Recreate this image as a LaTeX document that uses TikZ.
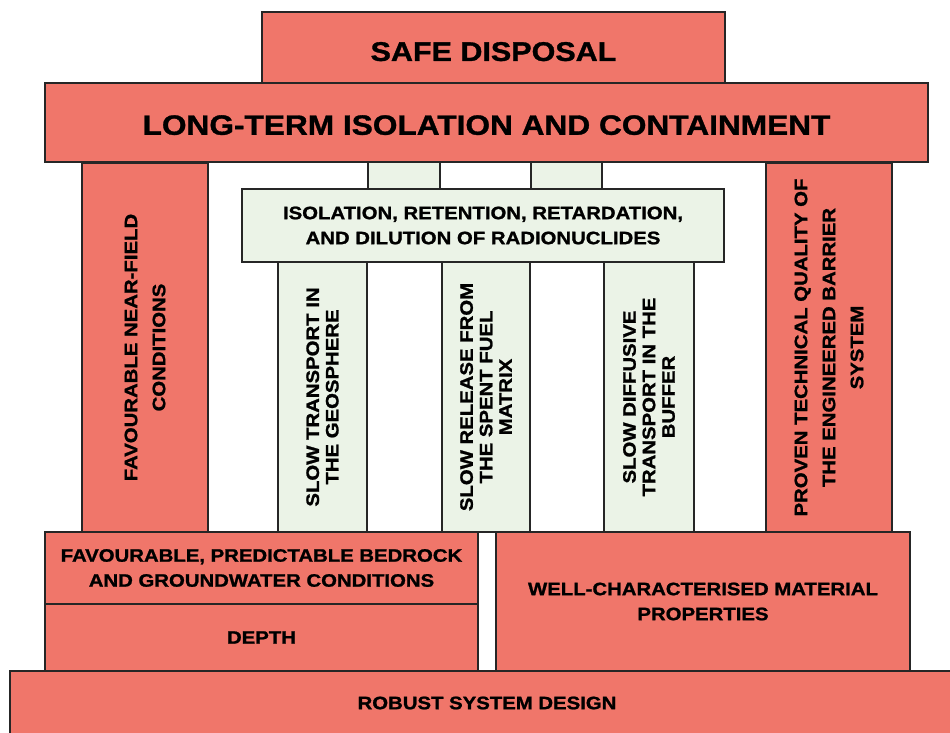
\documentclass[tikz,border=0pt]{standalone}
\usepackage{fontspec}
\setmainfont{Liberation Sans}[BoldFeatures={FakeStretch=1.13, FakeBold=1.2}]
\usetikzlibrary{positioning}
\definecolor{pillarred}{RGB}{240,118,106}
\definecolor{pillargreen}{RGB}{235,243,231}

\begin{document}
\begin{tikzpicture}[x=1pt, y=-1pt,
        redbox/.style={draw=black!85, line width=1.6pt, fill=pillarred, inner sep=0pt,
            align=center, font=\bfseries\fontsize{18}{25}\selectfont},
        greenbox/.style={redbox, fill=pillargreen},
        headbox/.style={redbox, font=\bfseries\fontsize{27}{30}\selectfont},
        column/.style={rotate=90, font=\bfseries\fontsize{18}{28}\selectfont},
        thincolumn/.style={rotate=90, font=\bfseries\fontsize{18}{19.5}\selectfont}]
    \useasboundingbox (0,0) rectangle (950,733);

    % 1. Mái
    \node[headbox, minimum width=463pt, minimum height=71pt] (safe) at (493.5,47.5)
        {\raisebox{-4pt}[\height][0pt]{SAFE DISPOSAL}};
    \node[greenbox, minimum width=72pt, minimum height=27pt] (linkA) at (404,175.5) {};
    \node[greenbox, minimum width=71pt, minimum height=27pt] (linkB) at (566.5,175.5) {};
    \node[headbox, minimum width=883pt, minimum height=79pt, font=\bfseries\fontsize{28}{30}\selectfont]
        (isolation) at (486.5,122.5)
        {\raisebox{-2.5pt}[\height][0pt]{LONG-TERM ISOLATION AND CONTAINMENT}};

    % 2. Các cột
    \node[redbox, column, minimum width=369pt, minimum height=126pt] (nearfield) at (145,347.5)
        {FAVOURABLE NEAR-FIELD\\CONDITIONS};
    \node[redbox, column, minimum width=369pt, minimum height=126pt] (quality) at (829,347.5)
        {PROVEN TECHNICAL QUALITY OF\\THE ENGINEERED BARRIER\\SYSTEM};
    \node[greenbox, minimum width=482pt, minimum height=73pt] (retention) at (483,225.5)
        {ISOLATION, RETENTION, RETARDATION,\\AND DILUTION OF RADIONUCLIDES};
    \node[greenbox, thincolumn, minimum width=270pt, minimum height=89pt] (geosphere) at (322.5,397)
        {SLOW TRANSPORT IN\\THE GEOSPHERE};
    \node[greenbox, thincolumn, minimum width=270pt, minimum height=88pt] (fuel) at (486,397)
        {SLOW RELEASE FROM\\THE SPENT FUEL\\MATRIX};
    \node[greenbox, thincolumn, minimum width=270pt, minimum height=90pt] (buffer) at (649,397)
        {SLOW DIFFUSIVE\\TRANSPORT IN THE\\BUFFER};

    % 3. Nền móng
    \node[redbox, minimum width=433pt, minimum height=72pt] (bedrock) at (261.5,568)
        {FAVOURABLE, PREDICTABLE BEDROCK\\AND GROUNDWATER CONDITIONS};
    \node[redbox, minimum width=433pt, minimum height=67pt] (depth) at (261.5,637.5) {DEPTH};
    \node[redbox, minimum width=414pt, minimum height=139pt] (material) at (703,601.5)
        {WELL-CHARACTERISED MATERIAL\\PROPERTIES};
    \node[redbox, minimum width=954pt, minimum height=64pt] (robust) at (487,703)
        {ROBUST SYSTEM DESIGN};
\end{tikzpicture}
\end{document}
